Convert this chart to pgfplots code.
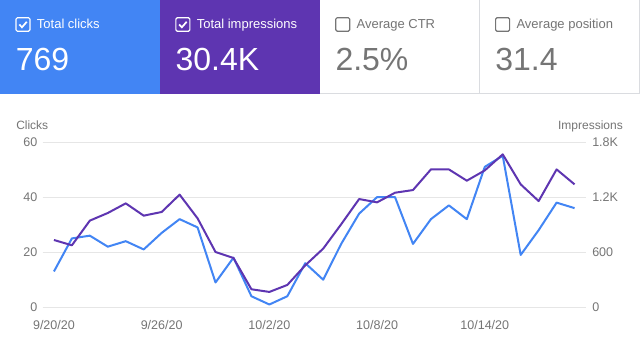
\documentclass[border=0pt]{standalone}
\usepackage{pgfplots}
\pgfplotsset{compat=1.18}
\usepackage{fontspec}
\setmainfont{Liberation Sans}
\definecolor{gblue}{HTML}{4285F4}
\definecolor{gpurple}{HTML}{5E35B1}
\definecolor{ggrey}{HTML}{757575}
\definecolor{gline}{HTML}{DADCE0}
\definecolor{ggrid}{HTML}{E6E6E6}
\begin{document}
\begin{tikzpicture}
% background
\fill[white] (0pt,0pt) rectangle (480pt,270.75pt);
\begin{axis}[
  at={(32.0pt,40.5pt)}, anchor=south west,
  scale only axis, width=408pt, height=124pt,
  xmin=-0.63, xmax=29.65, ymin=0, ymax=60,
  axis line style={draw=none}, tick style={draw=none},
  ymajorgrids, major grid style={ggrid, line width=0.75pt},
  ytick={0,20,40,60},
  xtick={0,6,12,18,24},
  xticklabels={9/20/20,9/26/20,10/2/20,10/8/20,10/14/20},
  /pgf/number format/assume math mode=true,
  ticklabel style={font=\fontsize{9.4pt}{11pt}\selectfont, text=ggrey},
  yticklabel style={xshift=-0.5pt},
  xticklabel style={yshift=-6pt},
  clip=false,
]
\addplot[gblue, line width=1.5pt, line join=round] coordinates {
(0,13)(1,25)(2,26)(3,22)(4,24)(5,21)(6,27)(7,32)(8,29)(9,9)
(10,18)(11,4)(12,1)(13,4)(14,16)(15,10)(16,23)(17,34)(18,40)(19,40)
(20,23)(21,32)(22,37)(23,32)(24,51)(25,55)(26,19)(27,28)(28,38)(29,36)};
\end{axis}
\begin{axis}[
  at={(32.0pt,40.5pt)}, anchor=south west,
  scale only axis, width=408pt, height=124pt,
  xmin=-0.63, xmax=29.65, ymin=0, ymax=1800,
  axis line style={draw=none}, tick style={draw=none},
  axis y line*=right, hide x axis,
  ytick={0,600,1200,1800},
  yticklabels={0,600,1.2K,1.8K},
  /pgf/number format/assume math mode=true,
  ticklabel style={font=\fontsize{9.4pt}{11pt}\selectfont, text=ggrey},
  yticklabel style={xshift=1pt},
  clip=false,
]
\addplot[gpurple, line width=1.5pt, line join=round] coordinates {
(0,733)(1,675)(2,944)(3,1027)(4,1132)(5,998)(6,1038)(7,1227)(8,969)(9,602)
(10,537)(11,196)(12,167)(13,243)(14,457)(15,639)(16,904)(17,1179)(18,1143)(19,1248)
(20,1277)(21,1502)(22,1502)(23,1379)(24,1491)(25,1666)(26,1339)(27,1157)(28,1502)(29,1339)};
\end{axis}
\begin{scope}[x=0.75pt, y=-0.75pt, shift={(0pt,270.75pt)}]
% tiles
\fill[gblue] (0,0) rectangle (160,93.5);
\fill[gpurple] (160,0) rectangle (320,93.5);
\draw[gline, line width=0.75pt] (320,93.5) -- (640,93.5);
\draw[gline, line width=0.75pt] (479.5,0) -- (479.5,93.5);
\draw[gline, line width=0.75pt] (639.5,0) -- (639.5,93.5);
% checkboxes
\foreach \x/\c/\checked in {16/white/1,176/white/1,336/ggrey/0,496/ggrey/0}{
  \draw[\c, line width=0.9pt, rounded corners=1pt] (\x,17.3) rectangle (\x+14,30.7);
  \ifnum\checked=1
    \draw[\c, line width=1.3pt] (\x+3.3,24) -- (\x+6,26.8) -- (\x+10.8,21.3);
  \fi
}
% labels
\node[anchor=base west, inner sep=0pt, text=white, font=\fontsize{9.75pt}{12pt}\selectfont] at (36.7,28.3) {Total clicks};
\node[anchor=base west, inner sep=0pt, text=white, font=\fontsize{9.75pt}{12pt}\selectfont] at (196.7,28.3) {Total impressions};
\node[anchor=base west, inner sep=0pt, text=ggrey, font=\fontsize{9.75pt}{12pt}\selectfont] at (356.7,28.3) {Average CTR};
\node[anchor=base west, inner sep=0pt, text=ggrey, font=\fontsize{9.75pt}{12pt}\selectfont] at (516.7,28.3) {Average position};
\node[anchor=base west, inner sep=0pt, text=white, font=\fontsize{24pt}{28pt}\selectfont] at (15.5,70) {769};
\node[anchor=base west, inner sep=0pt, text=white, font=\fontsize{24pt}{28pt}\selectfont] at (175.5,70) {30.4K};
\node[anchor=base west, inner sep=0pt, text=ggrey, font=\fontsize{24pt}{28pt}\selectfont] at (335.5,70) {2.5\%};
\node[anchor=base west, inner sep=0pt, text=ggrey, font=\fontsize{24pt}{28pt}\selectfont] at (495.5,70) {31.4};
% axis titles
\node[anchor=base west, inner sep=0pt, text=ggrey, font=\fontsize{9pt}{11pt}\selectfont] at (16,129.5) {Clicks};
\node[anchor=base east, inner sep=0pt, text=ggrey, font=\fontsize{9pt}{11pt}\selectfont] at (623.5,129.5) {Impressions};
\end{scope}
\end{tikzpicture}
\end{document}
